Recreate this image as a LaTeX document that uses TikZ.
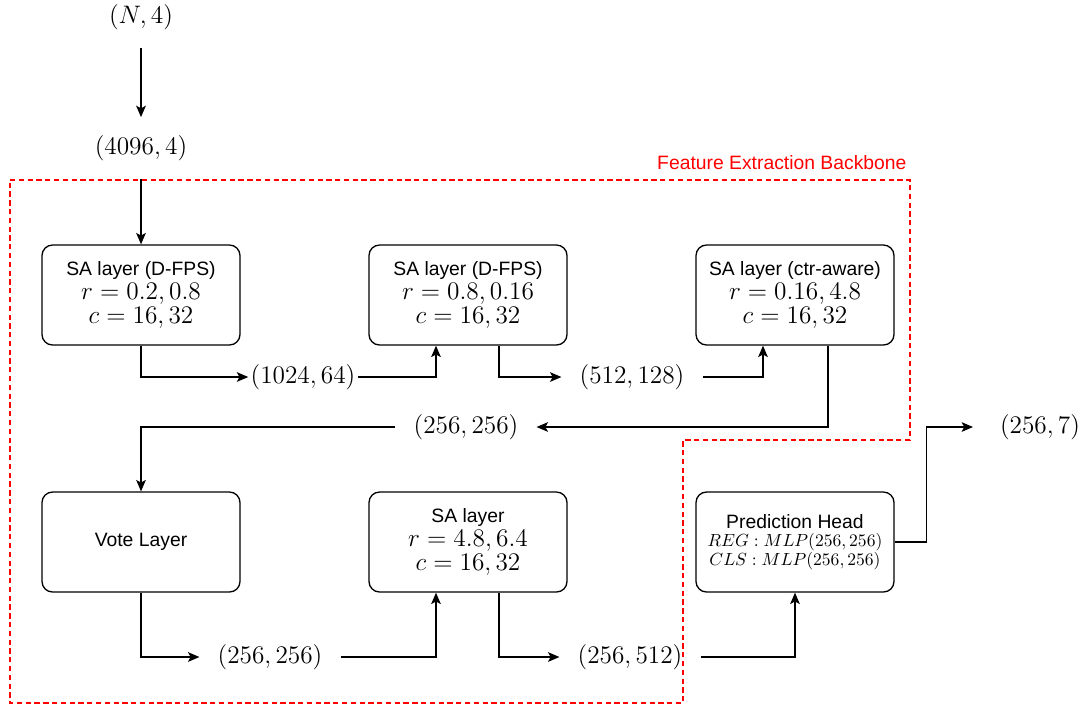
\documentclass[tikz,border=0pt]{standalone}
\usepackage{fontspec}
\newfontfamily\drawfont{Liberation Sans}
\usetikzlibrary{arrows.meta}
\tikzstyle{layer}=[draw,rounded corners=6pt,minimum width=3.96cm,minimum height=2cm,align=center,font=\drawfont\fontsize{11}{13.5}\selectfont]
\tikzstyle{dim}=[inner sep=10pt,font=\fontsize{14}{16}\selectfont]
\tikzstyle{backbone}=[-,red,dash pattern=on 3pt off 2pt]
\newcommand{\mth}[1]{{\fontsize{14}{13.5}\selectfont$#1$}}
\newcommand{\smth}[1]{{\fontsize{10}{10.5}\selectfont$#1$}}

\begin{document}
\begin{tikzpicture}[->,>={Stealth[length=6.5pt,width=5.5pt,inset=1.5pt]},line width=0.75pt,node distance=6.54cm]
	\useasboundingbox (0,0) rectangle (21.66,-14.1);
	\node[layer] (sa1) at (2.82,-5.9) {SA layer (D-FPS)\\ \mth{r=0.2,0.8}\\ \mth{c=16,32}};
	\node[layer] (sa2) [right of=sa1] {SA layer (D-FPS)\\ \mth{r=0.8,0.16}\\ \mth{c=16,32}};
	\node[layer] (sa3) [right of=sa2] {SA layer (ctr-aware)\\ \mth{r=0.16,4.8}\\ \mth{c=16,32}};
	\node[layer] (vote) [below of=sa1,node distance=4.94cm] {Vote Layer};
	\node[layer] (sa4) [right of=vote] {SA layer\\ \mth{r=4.8,6.4}\\ \mth{c=16,32}};
	\node[layer] (head) [right of=sa4] {Prediction Head\\[-3pt] \smth{REG:MLP(256,256)}\\[-3pt] \smth{CLS:MLP(256,256)}};
		\node[dim] (pts) [above of=sa1,node distance=2.94cm] {$(4096,4)$};
		\node[dim] (raw) [above of=pts,node distance=2.62cm] {$(N,4)$};
		\node[dim,inner sep=1pt] (l1) at (6.06,-7.54) {$(1024,64)$};
		\node[dim] (l2) at (12.64,-7.54) {$(512,128)$};
		\node[dim] (l3) at (9.32,-8.54) {$(256,256)$};
		\node[dim] (l4) at (5.4,-13.14) {$(256,256)$};
		\node[dim] (l5) at (12.6,-13.14) {$(256,512)$};
		\node[dim,inner sep=15pt] (out) at (20.8,-8.54) {$(256,7)$};
	% backbone frame
	\draw[backbone] (0.2,-3.6) -- (18.2,-3.6) -- (18.2,-8.8) -- (13.66,-8.8) -- (13.66,-14.06) -- (0.2,-14.06) -- cycle;
	\node[red,anchor=east,font=\drawfont\fontsize{11}{13}\selectfont] (title) at (18.26,-3.26) {Feature Extraction Backbone};
	\draw (raw) -- (pts);
	\draw (pts) -- (sa1);
	\draw (sa1.south) |- (l1);
	\draw (l1) -| ([xshift=-0.64cm]sa2.south);
	\draw ([xshift=0.62cm]sa2.south) |- (l2);
	\draw (l2) -| ([xshift=-0.64cm]sa3.south);
	\draw ([xshift=0.66cm]sa3.south) |- (l3);
	\draw (l3) -| (vote);
	\draw (vote) |- (l4);
	\draw (l4) -| ([xshift=-0.64cm]sa4.south);
	\draw ([xshift=0.62cm]sa4.south) |- (l5);
	\draw (l5) -| (head);
	\draw (head.east) -- ++(0.64,0) |- (out);
\end{tikzpicture}
\end{document}
